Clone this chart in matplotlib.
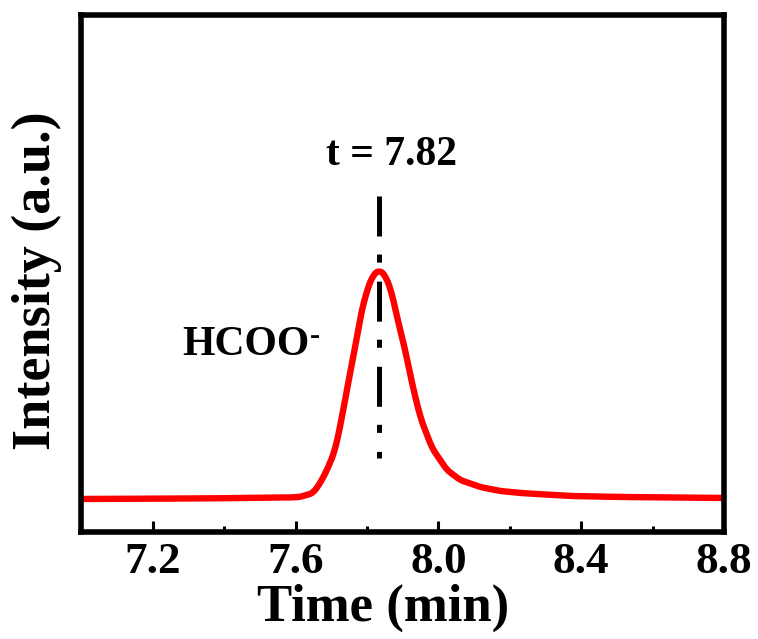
import numpy as np
import matplotlib
matplotlib.use('Agg')
import matplotlib.pyplot as plt

# chromatogram (time in min, intensity in a.u.)
time = [7.000, 7.332, 7.584, 7.612, 7.649, 7.669, 7.688, 7.711, 7.730, 7.747,
        7.767, 7.781, 7.800, 7.817, 7.834, 7.851, 7.870, 7.884, 7.907, 7.926,
        7.949, 7.982, 8.024, 8.061, 8.117, 8.173, 8.229, 8.369, 8.509, 8.800]
intensity = [33, 33.5, 34.5, 35, 39, 49, 62, 82, 115, 149,
             185, 215, 242, 257, 262, 257, 239, 215, 182, 149,
             115, 84, 62, 52, 45, 41, 39, 36, 35, 34]

peak_time = 7.834
peak_line = [336, 74]
major_ticks = [7.2, 7.6, 8.0, 8.4, 8.8]
minor_ticks = [7.4, 7.8, 8.2, 8.6]

plt.rcParams['font.family'] = 'Liberation Serif'
plt.rcParams['font.weight'] = 'bold'
plt.rcParams['lines.scale_dashes'] = False

fig = plt.figure(figsize=(7.58, 6.39), dpi=100)
ax = fig.add_axes([0.1075, 0.1675, 0.8475, 0.809])

# smooth the hand-read points a bit for drawing
t_fine = np.linspace(time[0], time[-1], 600)
i_fine = np.interp(t_fine, time, intensity)
k = np.ones(7) / 7
i_smooth = np.convolve(np.pad(i_fine, 3, mode='edge'), k, mode='valid')
ax.plot(t_fine, i_smooth, color='red', lw=4.6, solid_capstyle='butt')

ax.plot([peak_time, peak_time], peak_line, color='black', lw=3.6,
        dashes=(28.8, 13, 5.8, 13.7), dash_capstyle='butt')

ax.text(7.868, 367, 't = 7.82', ha='center', va='baseline', fontsize=30,
        fontweight='bold')
txt = ax.text(7.282, 177, 'HCOO', ha='left', va='baseline', fontsize=30,
              fontweight='bold')
ax.annotate('-', xy=(1, 0), xycoords=txt, xytext=(0, 9),
            textcoords='offset points', ha='left', va='bottom', fontsize=22,
            fontweight='bold')

ax.set_xlim(7.0, 8.8)
ax.set_ylim(0, 517)
ax.set_xticks(major_ticks)
ax.set_xticks(minor_ticks, minor=True)
ax.set_xticklabels(['%.1f' % v for v in major_ticks])
ax.set_yticks([])
ax.tick_params(axis='x', which='major', direction='in', length=8, width=2.2,
               labelsize=32.5, pad=7)
ax.tick_params(axis='x', which='minor', direction='in', length=4.5, width=2.2)
for s in ax.spines.values():
    s.set_linewidth(4)

ax.set_xlabel('Time (min)', fontsize=38, fontweight='bold')
ax.xaxis.set_label_coords(0.469, -0.101)
ax.set_ylabel('Intensity (a.u.)', fontsize=39, fontweight='bold')
ax.yaxis.set_label_coords(-0.030, 0.487)

fig.savefig('out.png', dpi=100)
